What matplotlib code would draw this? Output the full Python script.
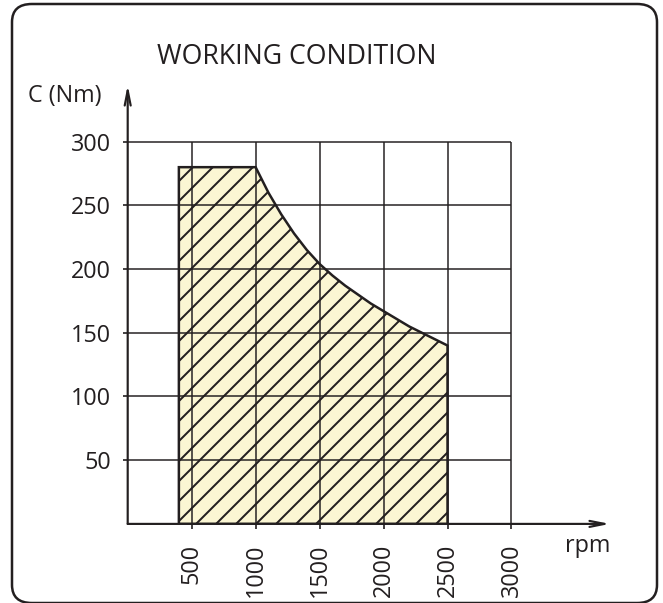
import matplotlib
matplotlib.use("Agg")
import matplotlib.pyplot as plt
from matplotlib.patches import FancyBboxPatch

plt.rcParams["font.family"] = ["Open Sans", "DejaVu Sans"]
plt.rcParams["hatch.linewidth"] = 1.2

# torque envelope
rpm = [400, 400, 1000, 1100, 1200, 1300, 1400, 1500, 1600, 1700, 1800, 1900,
       2000, 2100, 2200, 2300, 2400, 2500, 2500]
torque = [0, 280, 280, 260, 243, 228, 215, 204, 195, 187, 180, 173,
          167, 161, 155, 150, 145, 140, 0]

x_ticks = [500, 1000, 1500, 2000, 2500, 3000]
y_ticks = [50, 100, 150, 200, 250, 300]

ink = "#231f20"
fill_col = "#fbf6d3"

dpi = 120
fig = plt.figure(figsize=(663 / dpi, 603 / dpi), dpi=dpi)

# rounded frame round the whole chart
frame = FancyBboxPatch((12 / 663, 0 / 603), 645 / 663, 599 / 603,
                       boxstyle="round,pad=0,rounding_size=0.03",
                       transform=fig.transFigure, fill=False,
                       edgecolor=ink, linewidth=1.5)
fig.patches.append(frame)

ax = fig.add_axes([127.7 / 663, 79.1 / 603, (610 - 127.7) / 663, (523.9 - 85) / 603])
ax.set_xlim(0, 3770)
ax.set_ylim(0, 344.5)
for s in ax.spines.values():
    s.set_visible(False)
ax.patch.set_alpha(0)

# hatched fill under the grid, outline on top
ax.fill(rpm, torque, facecolor=fill_col, edgecolor=ink, hatch="//",
        linewidth=0, zorder=1)

# grid, only up to 3000 rpm / 300 Nm
ax.hlines(y_ticks, 0, x_ticks[-1], color=ink, linewidth=0.9, zorder=2)
ax.vlines(x_ticks, 0, y_ticks[-1], color=ink, linewidth=0.9, zorder=2)

ax.fill(rpm, torque, facecolor="none", edgecolor=ink, linewidth=1.5, zorder=3)

# axes with arrow heads
ax.annotate("", xy=(3770, 0), xytext=(0, 0),
            arrowprops=dict(arrowstyle="->,head_length=0.9,head_width=0.18",
                            color=ink, linewidth=1.3, shrinkA=0, shrinkB=0),
            annotation_clip=False, zorder=4)
ax.annotate("", xy=(0, 344.5), xytext=(0, 0),
            arrowprops=dict(arrowstyle="->,head_length=0.9,head_width=0.18",
                            color=ink, linewidth=1.3, shrinkA=0, shrinkB=0),
            annotation_clip=False, zorder=4)

ax.set_xticks(x_ticks)
ax.set_xticklabels([str(v) for v in x_ticks], rotation=90, va="top")
ax.set_yticks(y_ticks)
ax.set_yticklabels([str(v) for v in y_ticks])
ax.tick_params(axis="both", direction="out", length=3, width=1.0, color=ink,
               labelsize=14, labelcolor=ink)
ax.tick_params(axis="x", pad=9)
ax.tick_params(axis="y", pad=7)

fig.text(297 / 663, 1 - 57 / 603, "WORKING CONDITION", ha="center", va="center",
         fontsize=16, color=ink)
fig.text(65 / 663, 1 - 96 / 603, "C (Nm)", ha="center", va="center",
         fontsize=14, color=ink)
fig.text(588 / 663, 1 - 546 / 603, "rpm", ha="center", va="center",
         fontsize=14, color=ink)

fig.savefig("out.png", dpi=dpi)
